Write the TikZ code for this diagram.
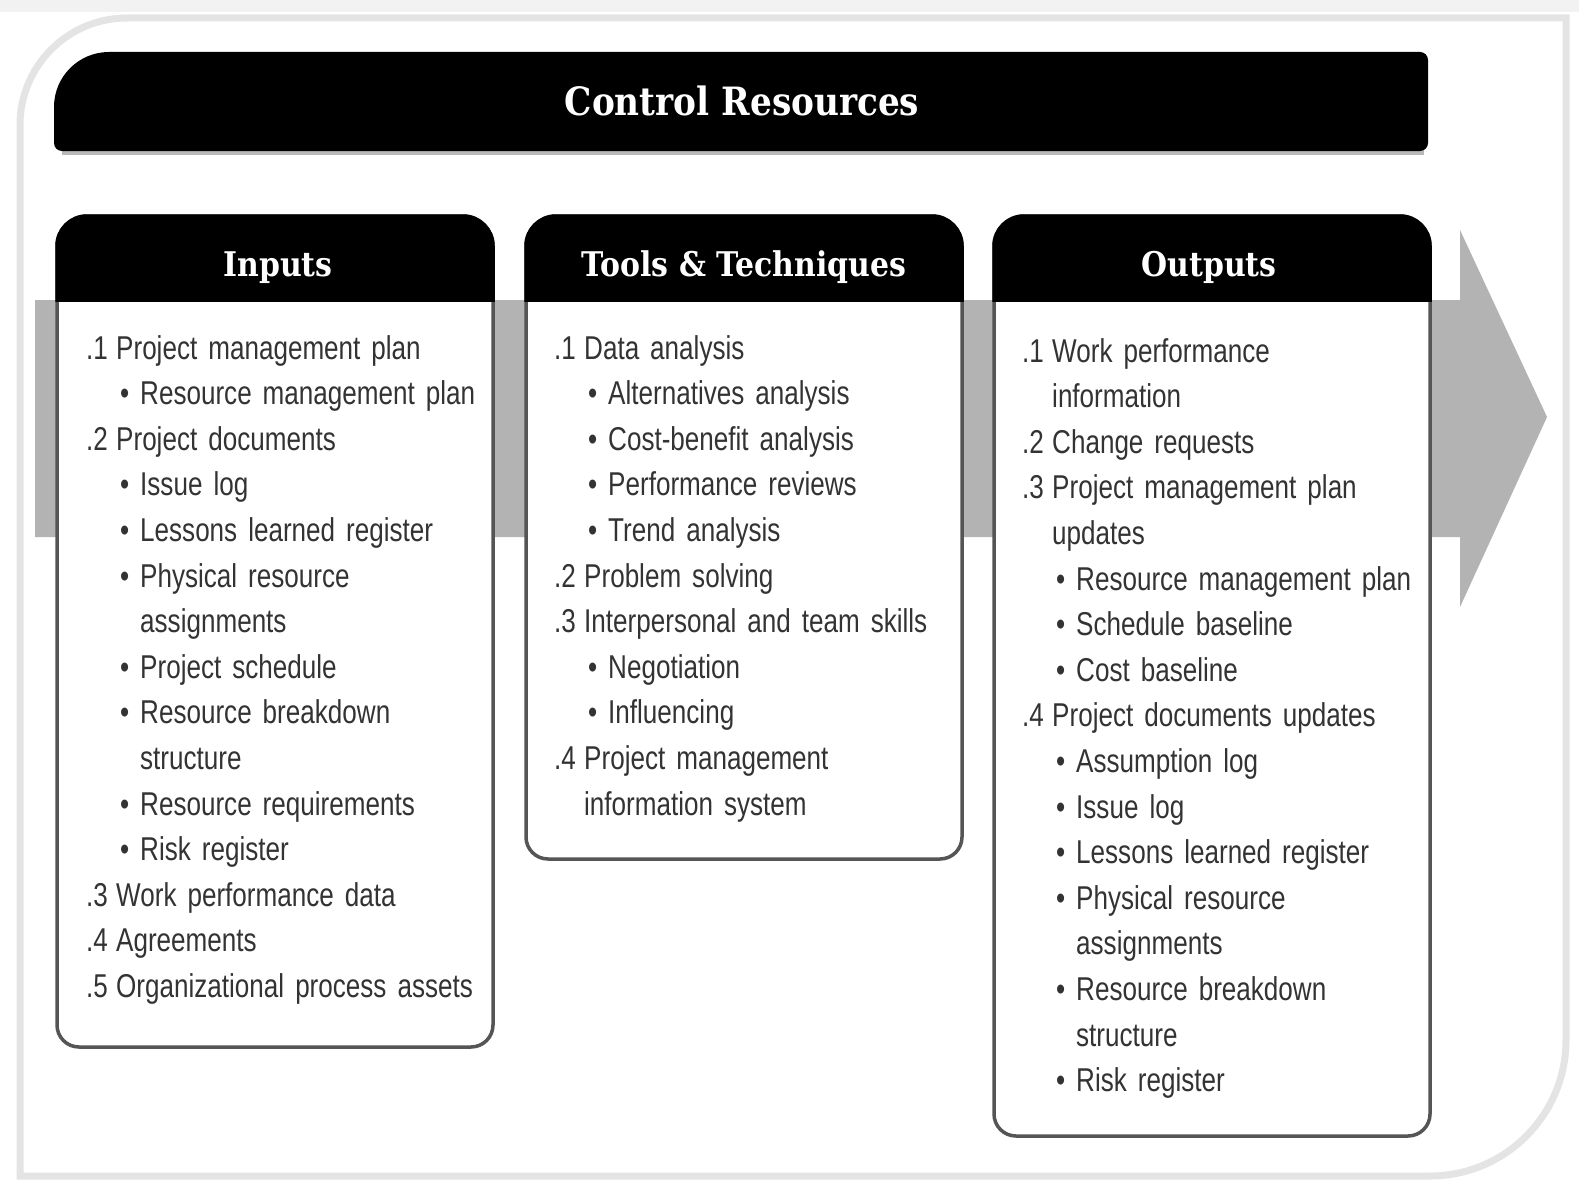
\documentclass[tikz,border=0pt]{standalone}
\usepackage{fontspec}
\setmainfont[FakeStretch=0.79]{Liberation Sans}
\newfontfamily\headfont[FakeStretch=0.88]{DejaVu Serif}
\usetikzlibrary{positioning}

\definecolor{bandgray}{HTML}{B3B3B3}
\definecolor{linegray}{HTML}{555555}
\definecolor{framegray}{HTML}{E4E4E4}
\definecolor{textgray}{HTML}{333333}

% list lines: numbered item, its wrap, bullet item, its wrap
\setlength{\parindent}{0pt}
\newlength{\numw}\setlength{\numw}{30pt}
\newlength{\bulx}\setlength{\bulx}{34pt}
\newlength{\subx}\setlength{\subx}{54pt}
\newcommand{\nitem}[2]{\strut\makebox[\numw][l]{#1}#2\par}
\newcommand{\nmore}[1]{\strut\hspace*{\numw}#1\par}
\newcommand{\bitem}[1]{\strut\hspace*{\bulx}\makebox[\dimexpr\subx-\bulx\relax][l]{\textbullet}#1\par}
\newcommand{\bmore}[1]{\strut\hspace*{\subx}#1\par}

\tikzset{
    listtext/.style={anchor=north west, inner sep=0pt, text width=400pt, align=left,
        text=textgray, font=\fontsize{33}{45.6}\selectfont},
    headtext/.style={anchor=base, inner sep=0pt, text=white,
        font=\headfont\bfseries\fontsize{34}{40}\selectfont},
    boxline/.style={draw=linegray, line width=3.5pt, fill=white},
}

% column box: #1 left edge, #2 bottom edge (box is 436 wide)
\newcommand{\colbox}[2]{%
    \draw[boxline] (#1,-246) arc[start angle=180, end angle=90, radius=30]
        -- ({#1+406},-216) arc[start angle=90, end angle=0, radius=30]
        -- ({#1+436},{#2+22}) arc[start angle=0, end angle=-90, radius=22]
        -- ({#1+22},#2) arc[start angle=270, end angle=180, radius=22] -- cycle;
    \filldraw[black, line width=3.5pt] (#1,-300) -- (#1,-246)
        arc[start angle=180, end angle=90, radius=30]
        -- ({#1+406},-216) arc[start angle=90, end angle=0, radius=30]
        -- ({#1+436},-300) -- cycle;
}

\begin{document}
\begin{tikzpicture}[x=1pt, y=1pt]

    \useasboundingbox (0,0) rectangle (1579,-1180);
    \fill[white] (0,0) rectangle (1579,-1180);
    \fill[gray!10] (0,0) rectangle (1579,-12);

    % Outer frame
    \draw[framegray, line width=7pt] (20,-1176) -- (20,-125)
        arc[start angle=180, end angle=90, radius=107] -- (1566,-18)
        -- (1566,-1040) arc[start angle=0, end angle=-90, radius=136] -- cycle;

    % Title bar
    \fill[gray!55] (62,-146) rectangle (1424,-155);
    \fill[black] (54,-143) -- (54,-107) arc[start angle=180, end angle=90, radius=55]
        -- (1420,-52) arc[start angle=90, end angle=0, radius=8]
        -- (1428,-143) arc[start angle=0, end angle=-90, radius=8]
        -- (62,-151) arc[start angle=270, end angle=180, radius=8] -- cycle;
    \node[headtext, font=\headfont\bfseries\fontsize{39}{44}\selectfont] (title) at (742,-116) {Control Resources};

    % Process arrow behind the columns
    \fill[bandgray] (35,-300) -- (1460,-300) -- (1460,-230) -- (1547,-417)
        -- (1460,-607) -- (1460,-537) -- (35,-537) -- cycle;

    % Columns
    \colbox{57}{-1047}
    \colbox{526}{-859}
    \colbox{994}{-1136}

    \node[headtext] (inhead) at (278,-276) {Inputs};
    \node[headtext] (tthead) at (744,-276) {Tools \& Techniques};
    \node[headtext] (outhead) at (1209,-276) {Outputs};

    % Inputs
    \node[listtext] (inlist) at (86,-327) {
        \nitem{.1}{Project management plan}
        \bitem{Resource management plan}
        \nitem{.2}{Project documents}
        \bitem{Issue log}
        \bitem{Lessons learned register}
        \bitem{Physical resource}
        \bmore{assignments}
        \bitem{Project schedule}
        \bitem{Resource breakdown}
        \bmore{structure}
        \bitem{Resource requirements}
        \bitem{Risk register}
        \nitem{.3}{Work performance data}
        \nitem{.4}{Agreements}
        \nitem{.5}{Organizational process assets}
    };

    % Tools & Techniques
    \node[listtext] (ttlist) at (554,-327) {
        \nitem{.1}{Data analysis}
        \bitem{Alternatives analysis}
        \bitem{Cost-benefit analysis}
        \bitem{Performance reviews}
        \bitem{Trend analysis}
        \nitem{.2}{Problem solving}
        \nitem{.3}{Interpersonal and team skills}
        \bitem{Negotiation}
        \bitem{Influencing}
        \nitem{.4}{Project management}
        \nmore{information system}
    };

    % Outputs
    \node[listtext] (outlist) at (1022,-330) {
        \nitem{.1}{Work performance}
        \nmore{information}
        \nitem{.2}{Change requests}
        \nitem{.3}{Project management plan}
        \nmore{updates}
        \bitem{Resource management plan}
        \bitem{Schedule baseline}
        \bitem{Cost baseline}
        \nitem{.4}{Project documents updates}
        \bitem{Assumption log}
        \bitem{Issue log}
        \bitem{Lessons learned register}
        \bitem{Physical resource}
        \bmore{assignments}
        \bitem{Resource breakdown}
        \bmore{structure}
        \bitem{Risk register}
    };

\end{tikzpicture}
\end{document}
